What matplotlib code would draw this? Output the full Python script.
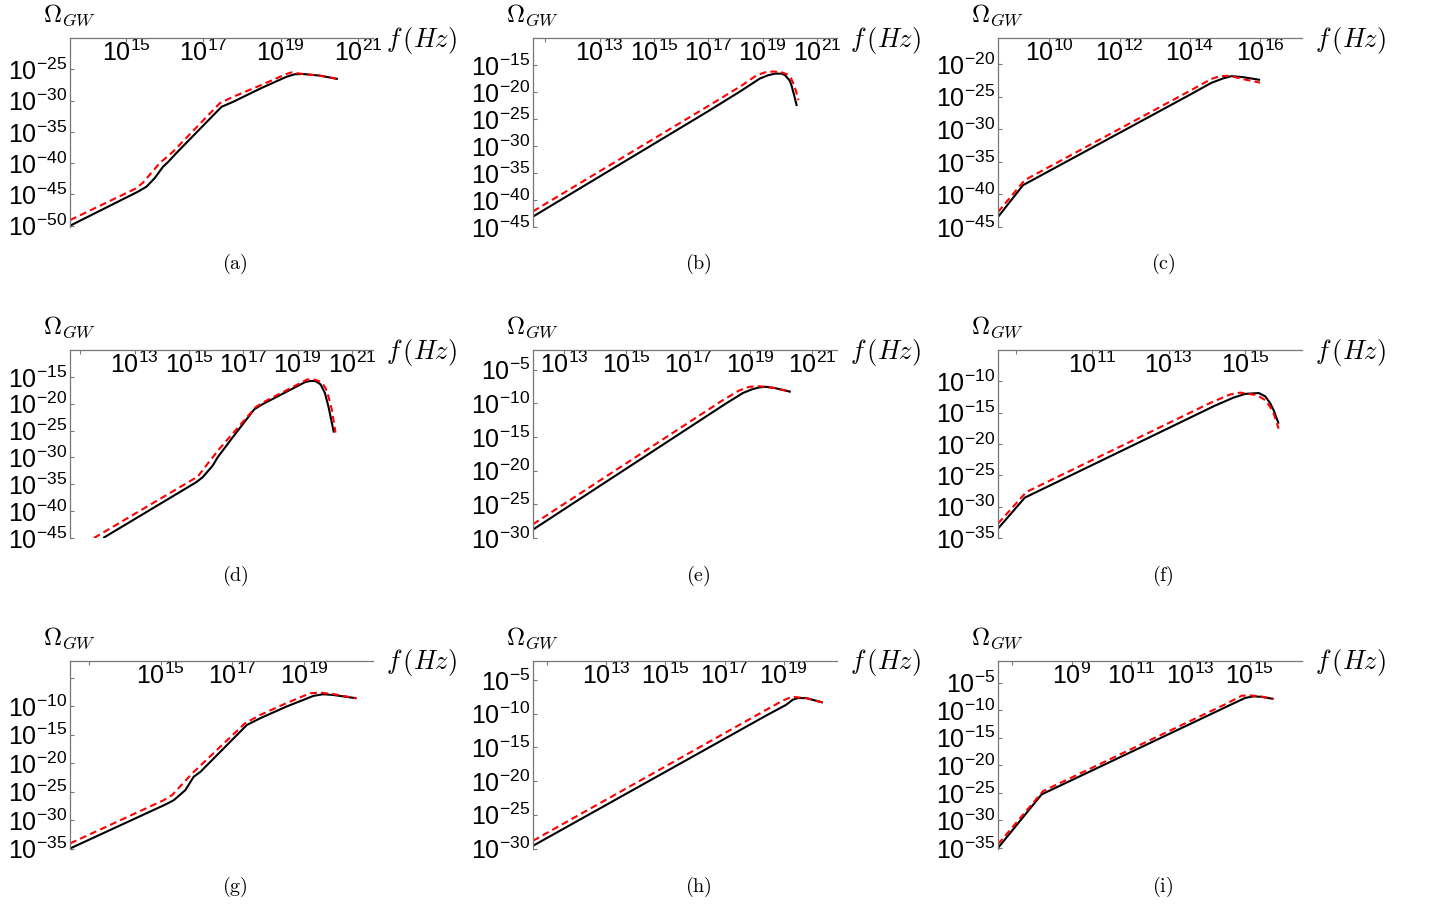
"""Omega_GW spectra, nine panels (solid vs dashed)"""

import numpy as np
import matplotlib
matplotlib.use("Agg")
import matplotlib.pyplot as plt
from matplotlib.ticker import NullLocator

plt.rcParams["mathtext.fontset"] = "custom"
plt.rcParams["mathtext.rm"] = "Liberation Sans"
plt.rcParams["mathtext.it"] = "Liberation Sans:italic"
plt.rcParams["mathtext.bf"] = "Liberation Sans:bold"

# all values are log10 exponents: x = log10 f(Hz), y = log10 Omega_GW

# panel (a)
a_f_solid = [13.55, 15.31, 15.53, 15.74, 15.96, 16.09, 16.3, 17.47, 17.77, 18.5, 19.15, 19.36, 19.57, 20.0, 20.48]
a_om_solid = [-50.0, -44.55, -43.75, -42.4, -40.55, -39.8, -38.4, -31.0, -30.2, -28.0, -26.2, -25.8, -25.75, -26.0, -26.55]
a_f_dash = [13.55, 15.27, 15.44, 15.87, 16.21, 17.43, 17.77, 18.5, 19.15, 19.28, 19.57, 20.0, 20.48]
a_om_dash = [-49.1, -44.0, -43.1, -40.0, -38.2, -30.4, -29.4, -27.5, -25.75, -25.5, -25.75, -26.0, -26.55]
a_xticks = [15, 17, 19, 21]
a_yticks = [-25, -30, -35, -40, -45, -50]

# panel (b)
b_f_solid = [10.54, 17.06, 18.2, 18.9, 19.2, 19.46, 19.7, 19.83, 20.0, 20.07, 20.15, 20.26]
b_om_solid = [-43.07, -23.36, -19.8, -17.5, -16.9, -16.6, -16.6, -16.9, -17.9, -18.9, -20.4, -22.6]
b_f_dash = [10.54, 17.06, 18.2, 18.78, 19.1, 19.39, 19.7, 19.89, 20.05, 20.13, 20.22, 20.32]
b_om_dash = [-42.1, -22.4, -18.9, -16.9, -16.35, -16.2, -16.35, -16.7, -17.5, -18.4, -19.7, -21.5]
b_xticks = [13, 15, 17, 19, 21]
b_xticks_bare = [11]
b_yticks = [-15, -20, -25, -30, -35, -40, -45]

# panel (c)
c_f_solid = [8.55, 9.26, 14.0, 14.6, 14.94, 15.18, 15.5, 15.99]
c_om_solid = [-43.46, -38.58, -24.7, -22.9, -22.2, -21.85, -22.0, -22.43]
c_f_dash = [8.55, 9.31, 14.0, 14.6, 14.85, 15.13, 15.5, 15.99]
c_om_dash = [-42.7, -37.8, -24.1, -22.3, -21.85, -21.8, -22.3, -22.85]
c_xticks = [10, 12, 14, 16]
c_yticks = [-20, -25, -30, -35, -40, -45]

# panel (d)
d_f_solid = [11.84, 15.26, 15.5, 15.87, 16.05, 16.6, 17.4, 17.7, 19.29, 19.5, 19.66, 19.84, 20.0, 20.14, 20.33]
d_om_solid = [-45.0, -34.63, -33.7, -31.54, -30.0, -26.3, -21.04, -20.1, -15.93, -15.75, -15.8, -16.4, -18.0, -20.74, -25.37]
d_f_dash = [11.5, 15.32, 15.68, 16.11, 17.46, 17.82, 19.35, 19.6, 19.78, 19.95, 20.08, 20.25, 20.39]
d_om_dash = [-45.0, -33.57, -31.2, -28.44, -20.6, -19.5, -15.48, -15.5, -15.8, -16.5, -17.65, -21.0, -25.37]
d_xticks = [13, 15, 17, 19, 21]
d_xticks_bare = [11]
d_yticks = [-15, -20, -25, -30, -35, -40, -45]

# panel (e)
e_f_solid = [12.0, 18.2, 18.76, 19.05, 19.29, 19.5, 19.8, 20.31]
e_om_solid = [-28.75, -10.1, -8.5, -7.95, -7.65, -7.56, -7.75, -8.31]
e_f_dash = [12.0, 18.1, 18.65, 18.95, 19.19, 19.5, 19.8, 20.31]
e_om_dash = [-27.96, -9.6, -8.1, -7.6, -7.45, -7.56, -7.75, -8.31]
e_xticks = [13, 15, 17, 19, 21]
e_yticks = [-5, -10, -15, -20, -25, -30]

# panel (f)
f_f_solid = [8.54, 9.24, 14.2, 14.69, 15.0, 15.35, 15.52, 15.65, 15.74, 15.87]
f_om_solid = [-33.5, -28.56, -13.9, -12.6, -12.0, -11.87, -12.4, -13.5, -14.63, -16.75]
f_f_dash = [8.54, 9.28, 14.1, 14.6, 14.87, 15.3, 15.52, 15.65, 15.74, 15.87]
f_om_dash = [-32.7, -27.66, -13.4, -12.1, -11.8, -12.2, -13.0, -14.1, -15.16, -17.55]
f_xticks = [11, 13, 15]
f_xticks_bare = [9]
f_yticks = [-10, -15, -20, -25, -30, -35]

# panel (g)
g_f_solid = [12.48, 15.14, 15.37, 15.69, 15.92, 16.11, 17.4, 17.77, 18.5, 19.25, 19.52, 19.8, 20.45]
g_om_solid = [-35.0, -27.27, -26.51, -24.75, -22.42, -21.54, -13.33, -12.15, -10.1, -8.23, -7.93, -8.06, -8.64]
g_f_dash = [12.48, 15.09, 15.32, 15.88, 17.35, 17.77, 18.5, 19.16, 19.43, 19.8, 20.45]
g_om_dash = [-34.12, -26.51, -25.63, -21.82, -13.03, -11.57, -9.5, -7.76, -7.65, -7.9, -8.64]
g_xticks = [15, 17, 19]
g_xticks_bare = [13]
g_yticks = [-10, -15, -20, -25, -30, -35]
g_yticks_bare = [-5]

# panel (h)
h_f_solid = [10.52, 18.4, 19.08, 19.3, 19.47, 19.76, 20.32]
h_om_solid = [-29.6, -10.3, -8.7, -7.95, -7.7, -7.7, -8.36]
h_f_dash = [10.52, 18.3, 18.97, 19.2, 19.36, 19.76, 20.32]
h_om_dash = [-28.85, -9.7, -8.06, -7.65, -7.55, -7.7, -8.36]
h_xticks = [13, 15, 17, 19]
h_xticks_bare = [11]
h_yticks = [-5, -10, -15, -20, -25, -30]

# panel (i)
i_f_solid = [6.52, 7.99, 14.3, 14.85, 15.13, 15.4, 15.81]
i_om_solid = [-35.0, -25.29, -9.2, -7.8, -7.51, -7.6, -7.98]
i_f_dash = [6.52, 8.04, 14.2, 14.74, 15.02, 15.4, 15.81]
i_om_dash = [-34.33, -24.69, -8.9, -7.39, -7.33, -7.55, -7.98]
i_xticks = [9, 11, 13, 15]
i_xticks_bare = [7]
i_yticks = [-5, -10, -15, -20, -25, -30, -35]

captions = ["(a)", "(b)", "(c)", "(d)", "(e)", "(f)", "(g)", "(h)", "(i)"]

panels = [
    (a_f_solid, a_om_solid, a_f_dash, a_om_dash, a_xticks, [], a_yticks, [], (13.55, 21.39), (-50.2, -20.0)),
    (b_f_solid, b_om_solid, b_f_dash, b_om_dash, b_xticks, b_xticks_bare, b_yticks, [], (10.54, 21.74), (-45.0, -10.0)),
    (c_f_solid, c_om_solid, c_f_dash, c_om_dash, c_xticks, [], c_yticks, [], (8.55, 17.18), (-45.0, -16.0)),
    (d_f_solid, d_om_solid, d_f_dash, d_om_dash, d_xticks, d_xticks_bare, d_yticks, [], (10.62, 21.77), (-45.0, -10.0)),
    (e_f_solid, e_om_solid, e_f_dash, e_om_dash, e_xticks, [], e_yticks, [], (12.0, 21.8), (-30.0, -2.1)),
    (f_f_solid, f_om_solid, f_f_dash, f_om_dash, f_xticks, f_xticks_bare, f_yticks, [], (8.54, 16.48), (-35.0, -5.0)),
    (g_f_solid, g_om_solid, g_f_dash, g_om_dash, g_xticks, g_xticks_bare, g_yticks, g_yticks_bare, (12.48, 20.91), (-35.0, -2.1)),
    (h_f_solid, h_om_solid, h_f_dash, h_om_dash, h_xticks, h_xticks_bare, h_yticks, [], (10.52, 20.8), (-30.0, -2.2)),
    (i_f_solid, i_om_solid, i_f_dash, i_om_dash, i_xticks, i_xticks_bare, i_yticks, [], (6.52, 16.77), (-35.1, -1.1)),
]

W, H = 1429, 908
col_left = [70, 533, 998]
col_right = [373, 837, 1302]
row_top = [38, 350, 661]
row_bottom = [227, 538, 848.5]
caption_x = [235, 698, 1163]
axis_grey = "#777777"

fig = plt.figure(figsize=(W / 100, H / 100), dpi=100)

for k, (fs, os_, fd, od, xt, xtb, yt, ytb, xlim, ylim) in enumerate(panels):
    row, col = divmod(k, 3)
    l, r = col_left[col], col_right[col]
    t, b = row_top[row], row_bottom[row]
    ax = fig.add_axes([l / W, 1 - b / H, (r - l) / W, (b - t) / H])
    ax.set_xscale("log")
    ax.set_yscale("log")

    ax.plot(10.0 ** np.array(fs), 10.0 ** np.array(os_), color="black", lw=1.5, solid_capstyle="butt")
    ax.plot(10.0 ** np.array(fd), 10.0 ** np.array(od), color="red", lw=1.5, dashes=(3.3, 2.0))

    ax.set_xlim(10.0 ** xlim[0], 10.0 ** xlim[1])
    ax.set_ylim(10.0 ** ylim[0], 10.0 ** ylim[1])

    xt_all = sorted(xt + xtb)
    ax.set_xticks([10.0 ** n for n in xt_all])
    ax.set_xticklabels([r"$10^{%d}$" % n if n in xt else "" for n in xt_all])
    yt_all = sorted(yt + ytb)
    ax.set_yticks([10.0 ** n for n in yt_all])
    ax.set_yticklabels([r"$10^{%d}$" % n if n in yt else "" for n in yt_all])
    ax.xaxis.set_minor_locator(NullLocator())
    ax.yaxis.set_minor_locator(NullLocator())

    for side in ["right", "bottom"]:
        ax.spines[side].set_visible(False)
    for side in ["top", "left"]:
        ax.spines[side].set_color(axis_grey)
        ax.spines[side].set_linewidth(0.9)
    ax.xaxis.set_ticks_position("top")
    ax.tick_params(axis="x", direction="in", length=3, width=0.8, color=axis_grey,
                   top=True, bottom=False, labeltop=True, labelbottom=False,
                   pad=-20, labelsize=18)
    ax.tick_params(axis="y", direction="in", length=3, width=0.8, color=axis_grey,
                   pad=2, labelsize=18)
    ax.patch.set_alpha(0)

    fig.text(l / W, 1 - (t - 23) / H, r"$\Omega_{GW}$", ha="center", va="center",
             fontsize=18, math_fontfamily="cm")
    fig.text((r + 13) / W, 1 - (t + 2) / H, r"$f\,(Hz)$", ha="left", va="center",
             fontsize=19, math_fontfamily="cm")
    fig.text(caption_x[col] / W, 1 - (t + 226) / H, r"$\mathrm{%s}$" % captions[k],
             ha="center", va="center", fontsize=14.5, math_fontfamily="cm")

fig.savefig("out.png", dpi=100)
